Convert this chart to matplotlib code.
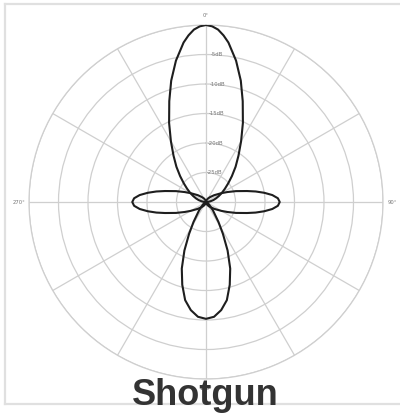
import numpy as np
import matplotlib.pyplot as plt
from matplotlib.lines import Line2D

# each lobe: angle off the lobe axis (deg) and level (dB); lobes are symmetric
front_axis = 0
front_off = [0, 2, 4, 6, 8, 12, 16, 20, 25, 30, 35, 40, 45, 50, 55, 60, 65, 70, 75, 80, 85, 90]
front_db = [0, -0.2, -0.7, -1.6, -2.7, -5.5, -8.6, -11.8, -15.2, -18.1, -20.4, -22.2, -23.8,
            -25.1, -26.1, -26.9, -27.6, -28.2, -28.7, -29.2, -29.6, -30]

side_axes = [90, 270]
side_off = [0, 3, 6, 9, 12, 15, 20, 25, 30, 40, 50, 60, 70, 80, 90]
side_db = [-17.5, -17.8, -18.7, -20.0, -21.4, -22.8, -24.6, -26.0, -27.0, -28.2, -28.9,
           -29.3, -29.6, -29.8, -30]

back_axis = 180
back_off = [0, 4, 8, 12, 16, 20, 24, 28, 32, 40, 50, 60, 70, 90]
back_db = [-10.2, -10.5, -11.5, -13.0, -15.4, -18.0, -21.0, -23.9, -26.0, -28.2, -29.3,
           -29.7, -29.9, -30]

ring_db = [-25, -20, -15, -10, -5, 0]
ring_labels = ["-25dB", "-20dB", "-15dB", "-10dB", "-5dB", ""]
spoke_deg = [0, 30, 60, 90, 120, 150, 180, 210, 240, 270, 300, 330]
spoke_labels = ["0°", "", "", "90°", "", "", "180°", "", "", "270°", "", ""]
floor_db = -30
title = "Shotgun"

grid_col = "#cfcfcf"
line_col = "#1e1e1e"


def lobe(axis_deg, off, db):
    off = np.array(off, dtype=float)
    db = np.array(db, dtype=float)
    a = np.concatenate([-off[::-1], off[1:]]) + axis_deg
    r = np.concatenate([db[::-1], db[1:]]) - floor_db
    return np.deg2rad(a), r


fig = plt.figure(figsize=(4.0, 4.15), dpi=100)
ax = fig.add_axes([0.0725, 0.0867, 0.885, 0.853], projection="polar")
ax.set_theta_zero_location("N")
ax.set_theta_direction(-1)

for axis_deg, off, db in [(front_axis, front_off, front_db),
                          (side_axes[0], side_off, side_db),
                          (side_axes[1], side_off, side_db),
                          (back_axis, back_off, back_db)]:
    th, r = lobe(axis_deg, off, db)
    ax.plot(th, r, color=line_col, lw=1.5, zorder=5)

ax.set_ylim(0, -floor_db)
ax.set_rgrids([d - floor_db for d in ring_db], labels=ring_labels, angle=2,
              fontsize=3.8, color="#777777")
ax.set_thetagrids(spoke_deg, labels=spoke_labels, fontsize=3.8, color="#777777")
ax.tick_params(axis="x", pad=0, length=0)
for t in ax.get_yticklabels():
    t.set_ha("left")
    t.set_va("center")
ax.grid(True, color=grid_col, lw=0.9)
ax.spines["polar"].set_color(grid_col)
ax.spines["polar"].set_linewidth(0.9)

# light frame round the picture
frame = dict(color="#e0e0e0", lw=1.6, transform=fig.transFigure)
fig.add_artist(Line2D([0.0125, 0.0125], [0.0265, 0.990], **frame))
fig.add_artist(Line2D([0.0125, 1.0], [0.990, 0.990], **frame))
fig.add_artist(Line2D([0.0125, 1.0], [0.0265, 0.0265], **frame))

fig.text(0.5125, 0.024, title, ha="center", va="baseline", fontsize=26,
         fontweight="bold", color="#333333", family="Liberation Sans", zorder=10)

fig.savefig("out.png", dpi=100)
